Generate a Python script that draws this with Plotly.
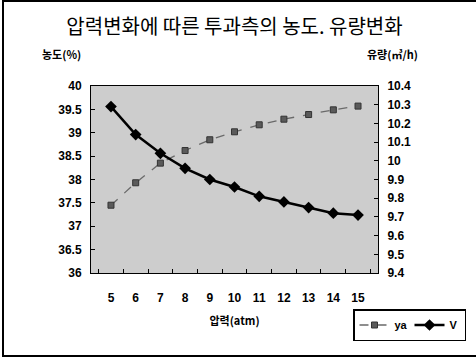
import plotly.graph_objects as go

# Pressure (atm) categories and measured series
pressure = ["5", "6", "7", "8", "9", "10", "11", "12", "13", "14", "15"]
ya = [37.45, 37.93, 38.35, 38.62, 38.85, 39.02, 39.17, 39.29, 39.39, 39.49, 39.57]   # 농도 (%)
flow_v = [10.29, 10.14, 10.04, 9.96, 9.90, 9.86, 9.81, 9.78, 9.75, 9.72, 9.71]     # 유량 (m3/h)

W, H = 476, 358
ML, MR, MT, MB = 91, 98, 86, 85
PW, PH = W - ML - MR, H - MT - MB


def px_x(px):
    return (px - ML) / PW


def px_y(py):
    return (H - MB - py) / PH


tick_font = dict(family="Liberation Sans, Arial", size=12, color="black", weight="bold")
kr_bold = "Noto Sans CJK KR"

fig = go.Figure()
fig.add_trace(go.Scatter(
    x=pressure, y=ya, name="ya", yaxis="y",
    mode="lines+markers",
    line=dict(color="#6a6a6a", width=1.3, dash="dash"),
    marker=dict(symbol="square", size=6, color="#5a5a5a",
                line=dict(color="#333333", width=1)),
))
fig.add_trace(go.Scatter(
    x=pressure, y=flow_v, name="V", yaxis="y2",
    mode="lines+markers",
    line=dict(color="black", width=2.5),
    marker=dict(symbol="diamond", size=9, color="black"),
))

fig.update_layout(
    width=W, height=H,
    margin=dict(l=ML, r=MR, t=MT, b=MB, autoexpand=False),
    paper_bgcolor="white",
    plot_bgcolor="#cdcdcd",
    title=dict(
        text="압력변화에 따른 투과측의 농도. 유량변화",
        font=dict(family="Noto Sans CJK KR", size=20, color="black"),
        x=0.5, xanchor="center", xref="paper",
        y=1 - 27 / H, yanchor="middle", yref="container",
    ),
    xaxis=dict(
        type="category", tickson="boundaries",
        ticks="inside", ticklen=4, tickcolor="black",
        showline=True, linecolor="black", linewidth=1, mirror=True,
        showgrid=False, zeroline=False,
        tickfont=tick_font, ticklabelstandoff=14,
        title=dict(text="<b>압력(atm)</b>", font=dict(family=kr_bold, size=11, color="black"),
                   standoff=12),
    ),
    yaxis=dict(
        range=[36, 40], dtick=0.5,
        ticks="inside", ticklen=4, tickcolor="black",
        showline=True, linecolor="black", linewidth=1, mirror=True,
        showgrid=False, zeroline=False,
        tickfont=tick_font, ticklabelstandoff=6,
    ),
    yaxis2=dict(
        range=[9.4, 10.4], dtick=0.1, overlaying="y", side="right",
        ticks="inside", ticklen=4, tickcolor="black",
        showline=True, linecolor="black", linewidth=1,
        showgrid=False, zeroline=False,
        tickfont=tick_font, ticklabelstandoff=6,
    ),
    showlegend=True,
    legend=dict(
        orientation="h",
        x=px_x(353), xanchor="left",
        y=px_y(309), yanchor="top",
        bgcolor="white", bordercolor="black", borderwidth=1.5,
        font=dict(family="Liberation Sans, Arial", size=11, color="black", weight="bold"),
        itemwidth=30, tracegroupgap=0, entrywidth=10,
    ),
    annotations=[
        dict(text="<b>농도(%)</b>", xref="paper", yref="paper",
             x=px_x(40), y=px_y(54), xanchor="left", yanchor="middle",
             showarrow=False, font=dict(family=kr_bold, size=11, color="black")),
        dict(text="<b>유량(㎥/h)</b>", xref="paper", yref="paper",
             x=px_x(365), y=px_y(54), xanchor="left", yanchor="middle",
             showarrow=False, font=dict(family=kr_bold, size=11, color="black")),
    ],
    shapes=[
        # outer chart frame
        dict(type="rect", xref="paper", yref="paper",
             x0=px_x(3), x1=px_x(480), y0=px_y(356), y1=px_y(1),
             line=dict(color="black", width=2), fillcolor="rgba(0,0,0,0)", layer="above"),
    ],
)

fig.write_html("out.html")
